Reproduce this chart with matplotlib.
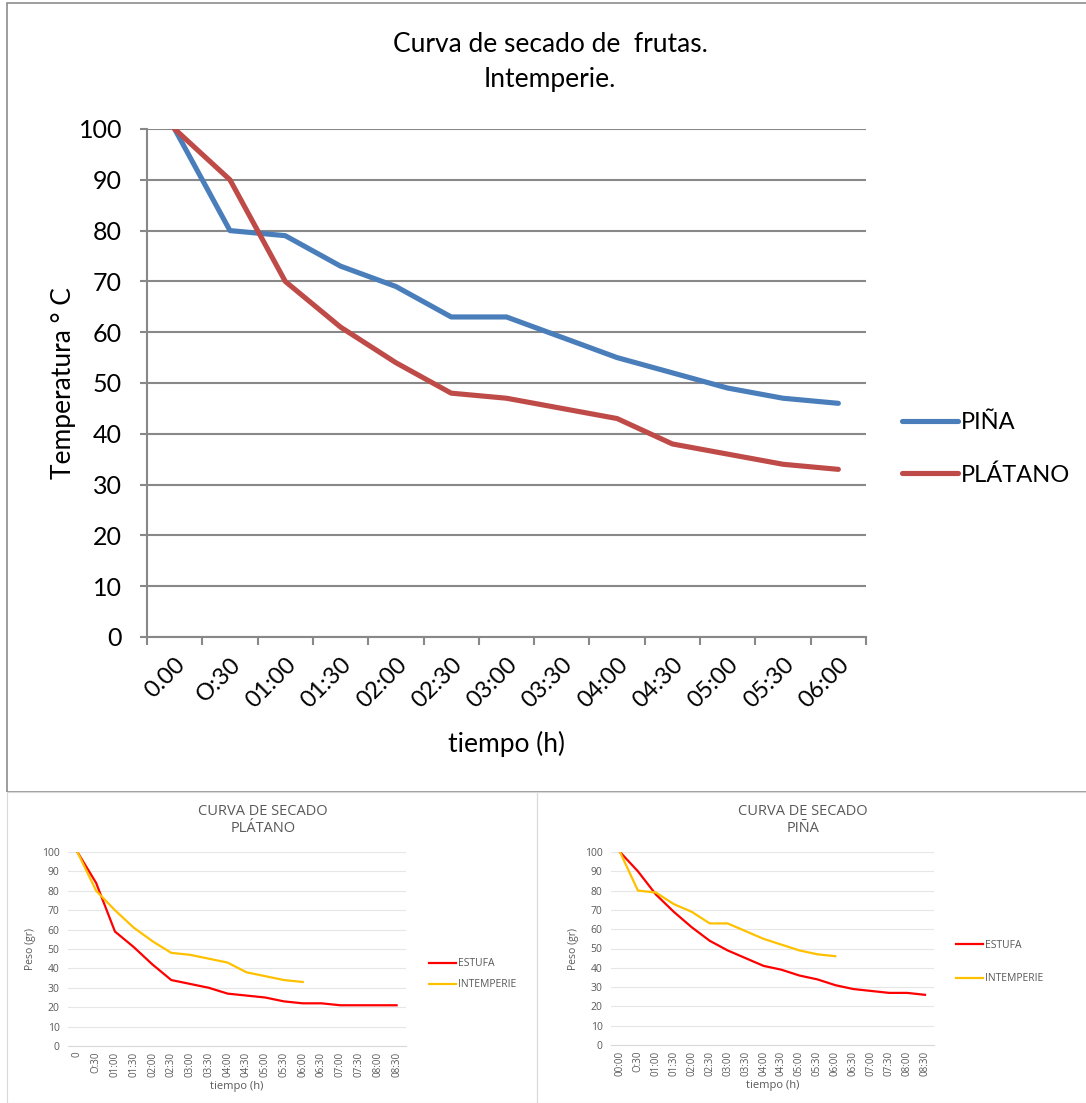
import matplotlib.pyplot as plt
import matplotlib.patches as mpatches
import matplotlib.transforms as mtransforms
import numpy as np

# main chart data
horas_main = ["0.00", "O:30", "01:00", "01:30", "02:00", "02:30", "03:00",
              "03:30", "04:00", "04:30", "05:00", "05:30", "06:00"]
pina = [100, 80, 79, 73, 69, 63, 63, 59, 55, 52, 49, 47, 46]
platano = [100, 90, 70, 61, 54, 48, 47, 45, 43, 38, 36, 34, 33]

# small charts data
horas_platano = ["0", "O:30", "01:00", "01:30", "02:00", "02:30", "03:00", "03:30",
                 "04:00", "04:30", "05:00", "05:30", "06:00", "06:30", "07:00",
                 "07:30", "08:00", "08:30"]
horas_pina = ["00:00"] + horas_platano[1:]
platano_estufa = [100, 84, 59, 51, 42, 34, 32, 30, 27, 26, 25, 23, 22, 22, 21, 21, 21, 21]
platano_intemperie = [100, 80, 70, 61, 54, 48, 47, 45, 43, 38, 36, 34, 33]
pina_estufa = [100, 90, 78, 69, 61, 54, 49, 45, 41, 39, 36, 34, 31, 29, 28, 27, 27, 26]
pina_intemperie = [100, 80, 79, 73, 69, 63, 63, 59, 55, 52, 49, 47, 46]

main_font = ['Lato', 'DejaVu Sans']
small_font = ['Open Sans', 'DejaVu Sans']

W, H = 1086, 1103
fig = plt.figure(figsize=(W / 100, H / 100), dpi=100)


def box(x0, y0, x1, y1, color, lw):
    r = mpatches.Rectangle((x0 / W, 1 - y1 / H), (x1 - x0) / W, (y1 - y0) / H,
                           transform=fig.transFigure, fill=False,
                           edgecolor=color, linewidth=lw)
    fig.add_artist(r)


def px_axes(x0, y0, x1, y1):
    return fig.add_axes([x0 / W, 1 - y1 / H, (x1 - x0) / W, (y1 - y0) / H])


# frames
box(7, 3, 1090, 792, '#8c8c8c', 1.2)
box(7, 792, 537, 1103, '#d9d9d9', 0.8)
box(537, 792, 1090, 1103, '#d9d9d9', 0.8)

# ---- main chart ----
ax = px_axes(147, 129, 866, 637)
x = np.arange(len(horas_main))
ax.plot(x, pina, color='#4A7EBB', lw=3.7, solid_capstyle='round', label='PIÑA')
ax.plot(x, platano, color='#BE4B48', lw=3.7, solid_capstyle='round', label='PLÁTANO')
ax.set_xlim(-0.5, len(horas_main) - 0.5)
ax.set_ylim(0, 100)
ax.set_yticks(range(0, 101, 10))
ax.yaxis.grid(True, color='#888888', lw=1.5)
ax.set_axisbelow(True)
ax.set_xticks(np.arange(-0.5, len(horas_main), 1))
ax.set_xticklabels([])
ax.set_xticks(x, minor=True)
ax.set_xticklabels(horas_main, minor=True, rotation=45, ha='right', va='top',
                   rotation_mode='anchor', fontsize=17, family=main_font)
shift = mtransforms.ScaledTranslation(-20 / 100, -6 / 100, fig.dpi_scale_trans)
for t in ax.get_xticklabels(minor=True):
    t.set_transform(t.get_transform() + shift)
ax.tick_params(axis='x', which='minor', length=0, pad=12)
ax.tick_params(axis='x', which='major', length=6, color='#888888', width=1.5)
ax.tick_params(axis='y', length=5, color='#888888', width=1.5, pad=13, labelsize=18)
for t in ax.get_yticklabels():
    t.set_family(main_font)
for s in ['top', 'right']:
    ax.spines[s].set_visible(False)
ax.spines['left'].set_color('#888888')
ax.spines['left'].set_linewidth(1.5)
ax.spines['bottom'].set_color('#888888')
ax.spines['bottom'].set_linewidth(1.5)
ax.set_xlabel('tiempo (h)', fontsize=19, family=main_font, labelpad=14)
ax.set_ylabel('Temperatura ° C', fontsize=19, family=main_font, labelpad=2)
fig.text(550 / W, 1 - 45 / H, 'Curva de secado de  frutas.', ha='center', va='center',
         fontsize=19, family=main_font)
fig.text(550 / W, 1 - 79 / H, 'Intemperie.', ha='center', va='center',
         fontsize=19, family=main_font)
ax.legend(loc='center left', bbox_to_anchor=(1.02, 0.37), frameon=False,
          prop={'family': main_font, 'size': 17}, handlelength=2.4,
          handletextpad=0.1, labelspacing=1.3)


# ---- small charts ----
def small_chart(rect, horas, estufa, intemperie, title, title_x, leg_anchor, spacing):
    a = px_axes(*rect)
    a.plot(range(len(estufa)), estufa, color='#FF0000', lw=1.6, label='ESTUFA')
    a.plot(range(len(intemperie)), intemperie, color='#FFC000', lw=1.6, label='INTEMPERIE')
    a.set_xlim(-0.5, len(horas) - 0.5)
    a.set_ylim(0, 100)
    a.set_yticks(range(0, 101, 10))
    a.yaxis.grid(True, color='#e6e6e6', lw=0.8)
    a.set_axisbelow(True)
    a.set_xticks(range(len(horas)))
    a.set_xticklabels(horas, rotation=90, fontsize=7, color='#595959', family=small_font)
    a.tick_params(axis='x', length=0, labelsize=7, labelcolor='#595959', pad=4)
    a.tick_params(axis='y', length=0, labelsize=7.5, labelcolor='#595959', pad=6)
    for t in a.get_yticklabels():
        t.set_family(small_font)
    for s in ['top', 'right', 'left']:
        a.spines[s].set_visible(False)
    a.spines['bottom'].set_color('#d9d9d9')
    a.set_xlabel('tiempo (h)', fontsize=8, color='#595959', family=small_font, labelpad=3)
    a.set_ylabel('Peso (gr)', fontsize=7.5, color='#595959', family=small_font, labelpad=4)
    fig.text(title_x / W, 1 - 820 / H, title, ha='center', va='center', fontsize=10.5,
             color='#595959', family=small_font, linespacing=1.15)
    a.legend(loc='center left', bbox_to_anchor=leg_anchor, frameon=False,
             prop={'family': small_font, 'size': 7.5}, labelcolor='#595959',
             handlelength=2.6, handletextpad=0.2, labelspacing=spacing)
    return a


small_chart((68, 852, 406, 1046), horas_platano, platano_estufa, platano_intemperie,
            'CURVA DE SECADO\nPLÁTANO', 263, (1.04, 0.37), 0.95)
small_chart((611, 852, 934, 1045), horas_pina, pina_estufa, pina_intemperie,
            'CURVA DE SECADO\nPIÑA', 803, (1.04, 0.43), 2.2)

fig.savefig('out.png', dpi=100)
